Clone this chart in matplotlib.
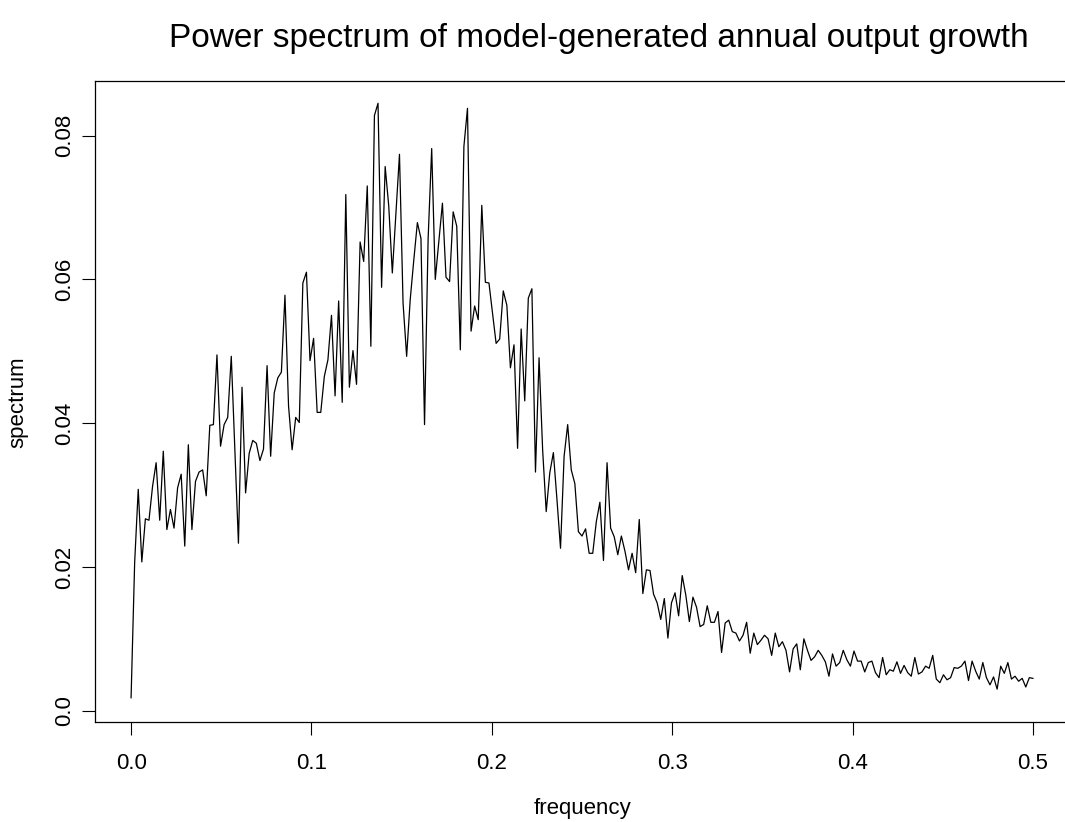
import numpy as np
import matplotlib
matplotlib.use("Agg")
import matplotlib.pyplot as plt

plt.rcParams['font.family'] = ['Liberation Sans', 'DejaVu Sans']

# spectrum values, evenly spaced from frequency 0 to 0.5
spectrum = [
    0.0018, 0.0206, 0.0308, 0.0207, 0.0267, 0.0265, 0.0312, 0.0345, 0.0265, 0.0361,
    0.0252, 0.0280, 0.0254, 0.0310, 0.0329, 0.0229, 0.0370, 0.0252, 0.0319, 0.0332,
    0.0335, 0.0299, 0.0397, 0.0398, 0.0495, 0.0368, 0.0398, 0.0408, 0.0493, 0.0363,
    0.0233, 0.0450, 0.0303, 0.0358, 0.0376, 0.0372, 0.0348, 0.0364, 0.0480, 0.0354,
    0.0442, 0.0463, 0.0471, 0.0578, 0.0424, 0.0363, 0.0408, 0.0401, 0.0595, 0.0610,
    0.0487, 0.0518, 0.0415, 0.0415, 0.0465, 0.0488, 0.0550, 0.0438, 0.0570, 0.0429,
    0.0718, 0.0450, 0.0501, 0.0454, 0.0652, 0.0625, 0.0730, 0.0507, 0.0828, 0.0845,
    0.0589, 0.0757, 0.0702, 0.0609, 0.0692, 0.0774, 0.0567, 0.0493, 0.0572, 0.0627,
    0.0679, 0.0657, 0.0398, 0.0656, 0.0782, 0.0600, 0.0653, 0.0706, 0.0603, 0.0597,
    0.0694, 0.0674, 0.0502, 0.0785, 0.0838, 0.0528, 0.0563, 0.0544, 0.0703, 0.0596,
    0.0595, 0.0553, 0.0511, 0.0517, 0.0584, 0.0564, 0.0477, 0.0509, 0.0365, 0.0531,
    0.0431, 0.0574, 0.0587, 0.0332, 0.0491, 0.0363, 0.0277, 0.0331, 0.0359, 0.0294,
    0.0226, 0.0354, 0.0398, 0.0335, 0.0316, 0.0249, 0.0243, 0.0253, 0.0219, 0.0219,
    0.0263, 0.0290, 0.0209, 0.0345, 0.0254, 0.0242, 0.0217, 0.0243, 0.0222, 0.0196,
    0.0219, 0.0192, 0.0266, 0.0163, 0.0196, 0.0195, 0.0162, 0.0150, 0.0127, 0.0156,
    0.0101, 0.0150, 0.0164, 0.0132, 0.0188, 0.0161, 0.0124, 0.0158, 0.0144, 0.0117,
    0.0120, 0.0146, 0.0123, 0.0123, 0.0138, 0.0081, 0.0122, 0.0126, 0.0110, 0.0108,
    0.0097, 0.0105, 0.0123, 0.0080, 0.0108, 0.0092, 0.0098, 0.0105, 0.0100, 0.0077,
    0.0108, 0.0089, 0.0096, 0.0084, 0.0054, 0.0086, 0.0093, 0.0057, 0.0100, 0.0084,
    0.0070, 0.0075, 0.0084, 0.0077, 0.0068, 0.0048, 0.0079, 0.0062, 0.0067, 0.0084,
    0.0071, 0.0062, 0.0083, 0.0069, 0.0069, 0.0054, 0.0067, 0.0069, 0.0053, 0.0046,
    0.0074, 0.0050, 0.0057, 0.0055, 0.0068, 0.0052, 0.0063, 0.0053, 0.0048, 0.0074,
    0.0051, 0.0054, 0.0062, 0.0059, 0.0077, 0.0044, 0.0039, 0.0050, 0.0043, 0.0046,
    0.0060, 0.0059, 0.0062, 0.0069, 0.0042, 0.0069, 0.0055, 0.0044, 0.0067, 0.0046,
    0.0036, 0.0047, 0.0030, 0.0062, 0.0052, 0.0067, 0.0044, 0.0048, 0.0041, 0.0045,
    0.0033, 0.0046, 0.0045,
]
frequency = np.linspace(0, 0.5, len(spectrum))

x_ticks = [0.0, 0.1, 0.2, 0.3, 0.4, 0.5]
x_labels = ["0.0", "0.1", "0.2", "0.3", "0.4", "0.5"]
y_ticks = [0.0, 0.02, 0.04, 0.06, 0.08]
y_labels = ["0.0", "0.02", "0.04", "0.06", "0.08"]

fig = plt.figure(figsize=(10.65, 8.22), dpi=100)
# plot box runs past the right edge of the picture, like the reference
ax = fig.add_axes([95 / 1065, 100 / 822, 974 / 1065, 641 / 822])

ax.plot(frequency, spectrum, color="black", linewidth=0.9)
ax.set_xlim(-0.02, 0.52)
ax.set_ylim(-0.00157, 0.0876)

ax.set_xticks(x_ticks)
ax.set_xticklabels(x_labels)
ax.set_yticks(y_ticks)
ax.set_yticklabels(y_labels, rotation=90, va="center")
ax.tick_params(direction="out", length=9.5, width=0.8, labelsize=16, colors="black")
ax.tick_params(axis="x", pad=13)
ax.tick_params(axis="y", pad=5)
for s in ax.spines.values():
    s.set_linewidth(0.9)

fig.text(599 / 1065, 1 - 38 / 822, "Power spectrum of model-generated annual output growth",
         ha="center", va="center", fontsize=24)
fig.text(582 / 1065, 1 - 808 / 822, "frequency", ha="center", va="center", fontsize=16)
fig.text(18 / 1065, 1 - 402 / 822, "spectrum", ha="center", va="center", fontsize=16, rotation=90)

fig.savefig("out.png", dpi=100)
